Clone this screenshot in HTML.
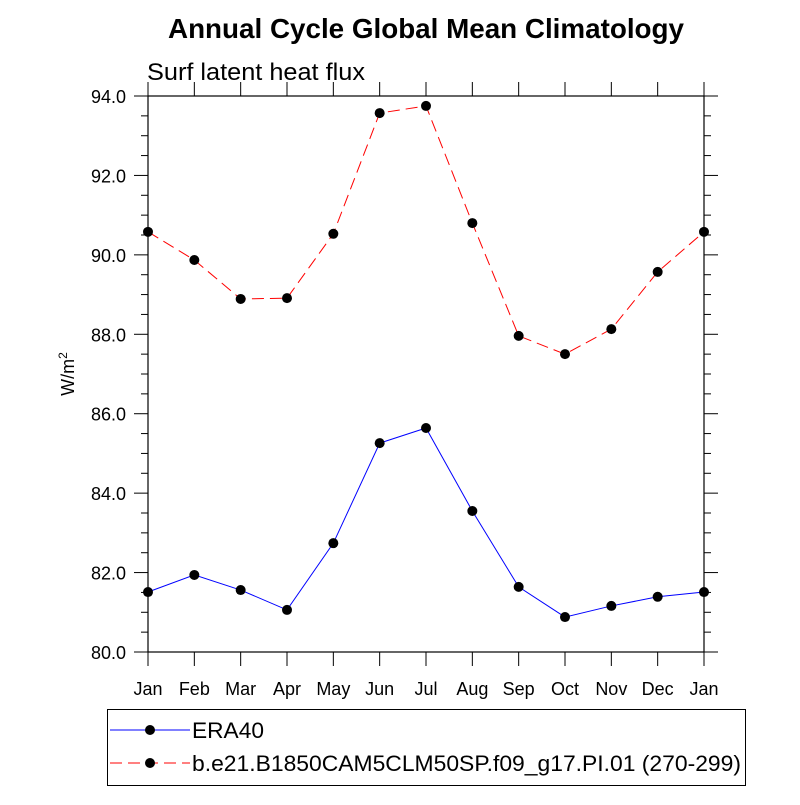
<!DOCTYPE html>
<html><head><meta charset="utf-8"><style>
body{margin:0;background:#fff}
svg text{font-family:"Liberation Sans",sans-serif}
</style></head><body>
<svg id="chart" width="800" height="800" viewBox="0 0 800 800">
<text x="426" y="38" text-anchor="middle" font-size="27.5" font-weight="bold" textLength="516" lengthAdjust="spacingAndGlyphs">Annual Cycle Global Mean Climatology</text>
<text x="147" y="80" font-size="24" textLength="218" lengthAdjust="spacingAndGlyphs">Surf latent heat flux</text>
<text transform="translate(74,374) rotate(-90)" text-anchor="middle" font-size="18">W/m<tspan dy="-7" font-size="12">2</tspan></text>
<g id="axes"></g>
<g id="series"></g>
<g>
<rect x="107.5" y="709.5" width="638" height="76" fill="none" stroke="#000" stroke-width="1"/>
<line x1="110" y1="730" x2="190" y2="730" stroke="#0000ff" stroke-width="1"/>
<circle cx="150" cy="730" r="5" fill="#000"/>
<text x="192" y="738" font-size="22" textLength="72" lengthAdjust="spacingAndGlyphs">ERA40</text>
<line x1="110" y1="763" x2="190" y2="763" stroke="#ff0000" stroke-width="1" stroke-dasharray="12,6"/>
<circle cx="150" cy="763" r="5" fill="#000"/>
<text x="192" y="771" font-size="22" textLength="549" lengthAdjust="spacingAndGlyphs">b.e21.B1850CAM5CLM50SP.f09_g17.PI.01 (270-299)</text>
</g>
</svg>
<script>
const months = ["Jan","Feb","Mar","Apr","May","Jun","Jul","Aug","Sep","Oct","Nov","Dec","Jan"];
const era40 = [81.51,81.94,81.56,81.06,82.74,85.26,85.64,83.55,81.64,80.88,81.16,81.39,81.51];
const model = [90.58,89.87,88.89,88.91,90.53,93.57,93.75,90.80,87.96,87.50,88.13,89.57,90.58];
const yTicks = [80,82,84,86,88,90,92,94];
const yTickLabels = ["80.0","82.0","84.0","86.0","88.0","90.0","92.0","94.0"];

const L=148,R=704,T=96,B=652,yMin=80,yMax=94;
const xs=i=>L+(R-L)*i/(months.length-1);
const ys=v=>B-(v-yMin)/(yMax-yMin)*(B-T);
const NS="http://www.w3.org/2000/svg";
function mk(tag,attrs,parent){const e=document.createElementNS(NS,tag);for(const k in attrs)e.setAttribute(k,attrs[k]);parent.appendChild(e);return e;}
const ax=document.getElementById('axes');
let f=mk('rect',{x:L,y:T,width:R-L,height:B-T,fill:'none',stroke:'#000','stroke-width':1.2},ax);


months.forEach((m,i)=>{
  const x=xs(i);
  mk('line',{x1:x,y1:B,x2:x,y2:B+14,stroke:'#000'},ax);
  mk('line',{x1:x,y1:T,x2:x,y2:T-14,stroke:'#000'},ax);
  const t=mk('text',{x:x,y:B+43,'text-anchor':'middle','font-size':18},ax);
  t.textContent=m;
  
  
});
for(let v=yMin;v<=yMax+1e-9;v+=0.5){
  const y=ys(v);const major=Math.abs(v-Math.round(v/2)*2)<1e-9;
  const len=major?14:7;
  mk('line',{x1:L-len,y1:y,x2:L,y2:y,stroke:'#000'},ax);
  mk('line',{x1:R,y1:y,x2:R+len,y2:y,stroke:'#000'},ax);
}
yTicks.forEach((v,i)=>{
  const t=mk('text',{x:L-22,y:ys(v)+7,'text-anchor':'end','font-size':18},ax);
  t.textContent=yTickLabels[i];
  
  
});
const sg=document.getElementById('series');
function series(vals,color,dash,name){
  const p=mk('polyline',{points:vals.map((v,i)=>xs(i)+','+ys(v)).join(' '),fill:'none',stroke:color,'stroke-width':1,'stroke-dasharray':dash},sg);
  
  
  vals.forEach((v,i)=>{
    const c=mk('circle',{cx:xs(i),cy:ys(v),r:5,fill:'#000'},sg);
    
    
  });
}
series(era40,'#0000ff','none','era40');
series(model,'#ff0000','12,6','model');
</script>
</body></html>
